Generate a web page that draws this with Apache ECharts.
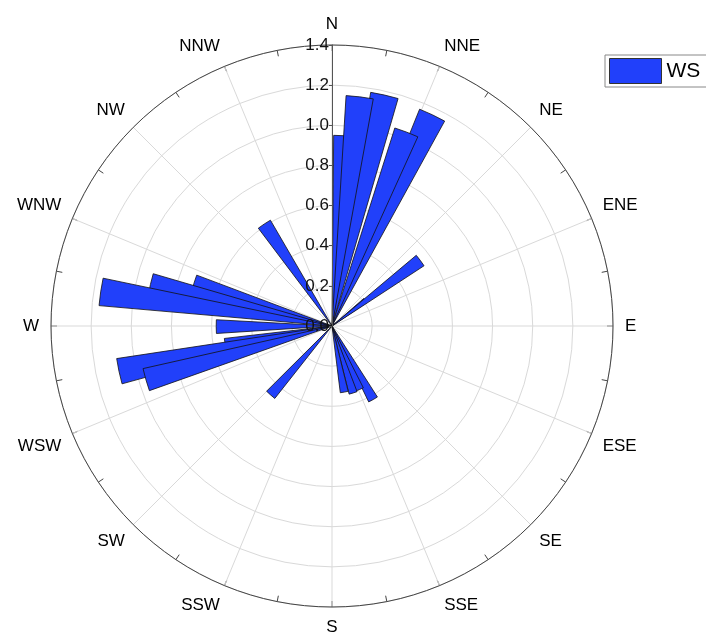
<!DOCTYPE html>
<html>
<head>
<meta charset="utf-8">
<script src="https://cdn.jsdelivr.net/npm/echarts@6/dist/echarts.min.js"></script>
<style>
  html, body { margin: 0; padding: 0; background: #fff; }
  #chart { width: 706px; height: 634px; }
</style>
</head>
<body>
<div id="chart"></div>
<script>
// compass labels for the angle axis ticks (every 22.5 deg)
const dirLabels = ['N', 'NNE', 'NE', 'ENE', 'E', 'ESE', 'SE', 'SSE', 'S', 'SSW', 'SW', 'WSW', 'W', 'WNW', 'NW', 'NNW'];

// wind direction (deg, centre of each wedge) and wind speed, in drawing order
const windDir = [3.9, 12.8, 6.9, 25.4, 21.0, 52.5, 53.4, 150.8, 156.5, 162.5, 169.5, 221.7, 260.0, 258.0, 253.9, 269.7, 287.2, 282.9, 278.4, 326.4];
const windSpeed = [0.95, 1.18, 1.15, 1.165, 1.035, 0.21, 0.548, 0.42, 0.345, 0.35, 0.335, 0.46, 0.54, 1.085, 0.965, 0.577, 0.72, 0.928, 1.165, 0.61];

const wedgeWidth = 6.8; // degrees
const barColor = '#2140fa';
const font = 'Liberation Sans, Arial, sans-serif';

const chart = echarts.init(document.getElementById('chart'));

function renderWedge(params, api) {
  const ws = api.value(0);
  const dir = api.value(1);
  const c = api.coord([0, dir]);
  const p1 = api.coord([ws, dir - wedgeWidth / 2]);
  const p2 = api.coord([ws, dir + wedgeWidth / 2]);
  const r = Math.hypot(p1[0] - c[0], p1[1] - c[1]);
  let a1 = Math.atan2(p1[1] - c[1], p1[0] - c[0]);
  let a2 = Math.atan2(p2[1] - c[1], p2[0] - c[0]);
  if (a2 < a1) a2 += Math.PI * 2;
  return {
    type: 'sector',
    shape: { cx: c[0], cy: c[1], r0: 0, r: r, startAngle: a1, endAngle: a2, clockwise: true },
    style: { fill: barColor, stroke: '#111', lineWidth: 0.8 }
  };
}

const option = {
  animation: false,
  backgroundColor: '#fff',
  legend: {
    left: 605,
    top: 55,
    padding: [3, 40, 3, 4],
    itemWidth: 52,
    itemHeight: 25,
    borderColor: '#888',
    borderWidth: 1,
    borderRadius: 0,
    selectedMode: false,
    textStyle: { fontSize: 21, color: '#000', fontFamily: font },
    data: [{ name: 'WS', icon: 'rect', itemStyle: { color: barColor, borderColor: '#333', borderWidth: 1 } }]
  },
  polar: [
    { center: [332, 326], radius: 281 },
    { center: [332, 326], radius: 281 }
  ],
  angleAxis: [
    {
      polarIndex: 0,
      type: 'value',
      min: 0,
      max: 360,
      interval: 22.5,
      startAngle: 90,
      clockwise: true,
      axisLine: { show: true, lineStyle: { color: '#444', width: 1 } },
      axisTick: { show: true, inside: true, length: 6, lineStyle: { color: '#444' } },
      minorTick: { show: true, splitNumber: 2, length: 6, lineStyle: { color: '#444' } },
      axisLabel: {
        margin: 12,
        fontSize: 17,
        color: '#000',
        fontFamily: font,
        formatter: function (v) {
          if (v >= 360) return '';
          return dirLabels[Math.round(v / 22.5) % 16];
        }
      },
      splitLine: { show: true, lineStyle: { color: '#d9d9d9', width: 1 } }
    },
    {
      polarIndex: 1,
      type: 'value',
      min: 0,
      max: 360,
      startAngle: 90,
      clockwise: true,
      show: false
    }
  ],
  radiusAxis: [
    {
      polarIndex: 0,
      min: 0,
      max: 1.4,
      interval: 0.2,
      axisLine: { show: false },
      axisTick: { show: false },
      axisLabel: { show: false },
      splitLine: { show: true, lineStyle: { color: '#d9d9d9', width: 1 } }
    },
    {
      polarIndex: 1,
      z: 10,
      min: 0,
      max: 1.4,
      interval: 0.2,
      axisLine: { show: true, lineStyle: { color: '#555', width: 1 } },
      axisTick: { show: true, length: 3, lineStyle: { color: '#555' } },
      axisLabel: {
        margin: 3,
        fontSize: 17,
        color: '#111',
        fontFamily: font,
        formatter: function (v) { return v.toFixed(1); }
      },
      splitLine: { show: false }
    }
  ],
  series: [
    {
      name: 'WS',
      type: 'custom',
      coordinateSystem: 'polar',
      polarIndex: 0,
      silent: true,
      itemStyle: { color: barColor },
      encode: { radius: 0, angle: 1 },
      data: windDir.map(function (d, i) { return [windSpeed[i], d]; }),
      renderItem: renderWedge
    }
  ]
};

chart.setOption(option);
</script>
</body>
</html>
